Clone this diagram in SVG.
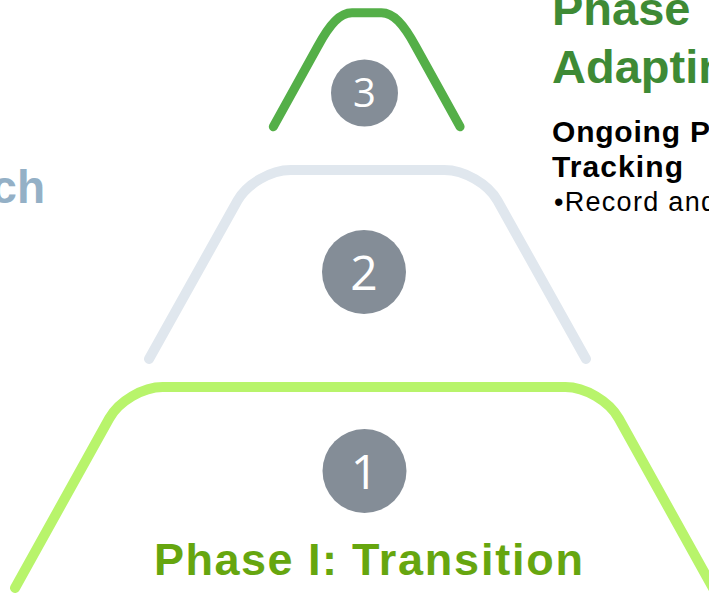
<svg xmlns="http://www.w3.org/2000/svg" width="709" height="594" viewBox="0 0 709 594">
<style>
.arch{fill:none;stroke-linecap:round;stroke-linejoin:round}
.badge{fill:#848d97}
.num{fill:#ffffff;font-family:"Open Sans","Noto Sans",sans-serif;text-anchor:middle}
.bold{font-family:"Liberation Sans",Arial,sans-serif;font-weight:bold}
.reg{font-family:"Liberation Sans",Arial,sans-serif}
</style>
<rect width="709" height="594" fill="#ffffff"/>
<g id="connectors"></g>
<g id="tier1">
<path class="arch" stroke="#b8f46b" stroke-width="10" d="M15 588 L109.2 418.5 C118.8 401.2 142.9 387 162.7 387 L565.3 387 C585.1 387 609.2 401.2 618.8 418.5 L713 588"/>
<circle class="badge" cx="364.5" cy="471" r="42"/>
<text class="num" x="364.5" y="489" font-size="48">1</text>
<text class="bold" y="575" font-size="45" fill="#66a60f"><tspan x="154" textLength="183" lengthAdjust="spacing">Phase I:</tspan> <tspan x="352" textLength="231" lengthAdjust="spacing">Transition</tspan></text>
</g>
<g id="tier2">
<path class="arch" stroke="#e0e7ee" stroke-width="10" d="M149 359 L237.5 200.6 C246.9 183.8 270.8 170 290.6 170 L444.4 170 C464.2 170 488.1 183.8 497.5 200.6 L586 359"/>
<circle class="badge" cx="364" cy="272" r="42"/>
<text class="num" x="364" y="290" font-size="48">2</text>
</g>
<g id="tier3">
<path class="arch" stroke="#54af48" stroke-width="9" d="M273.3 126.7 L318 46 C330 24 340 12.8 352 12.8 L381.4 12.8 C393.4 12.8 403.4 24 415.4 46 L460.1 126.7"/>
<circle class="badge" cx="364.5" cy="93" r="33.5"/>
<text class="num" x="364.5" y="107" font-size="40">3</text>
</g>
<g id="label-left">
<text class="bold" x="45" y="203" font-size="46" fill="#94b0c6" text-anchor="end">ch</text>
</g>
<g id="label-right">
<text class="bold" x="552" y="25" font-size="47" fill="#3e8a35">Phase</text>
<text class="bold" x="552" y="83" font-size="47" fill="#3e8a35">Adaptin</text>
<text class="bold" x="552" y="142" font-size="30" fill="#000000" textLength="158" lengthAdjust="spacing">Ongoing P</text>
<text class="bold" x="552" y="177" font-size="30" fill="#000000" textLength="131" lengthAdjust="spacing">Tracking</text>
<text class="reg" x="554" y="211" font-size="27" fill="#000000" textLength="162" lengthAdjust="spacing">•Record and</text>
</g>
</svg>
